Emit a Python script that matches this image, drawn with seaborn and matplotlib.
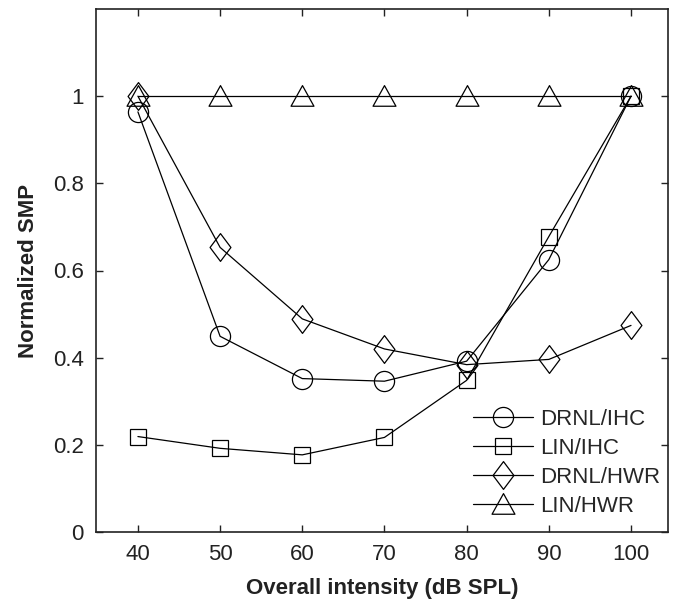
import matplotlib
matplotlib.use("Agg")
import matplotlib.pyplot as plt
import seaborn as sns
import pandas as pd
from matplotlib.path import Path

intensity = [40, 50, 60, 70, 80, 90, 100]
drnl_ihc = [0.964, 0.449, 0.352, 0.346, 0.392, 0.625, 1.0]
lin_ihc = [0.219, 0.192, 0.177, 0.217, 0.348, 0.678, 1.0]
drnl_hwr = [1.0, 0.653, 0.489, 0.420, 0.384, 0.396, 0.474]
lin_hwr = [1.0, 1.0, 1.0, 1.0, 1.0, 1.0, 1.0]
series_names = ["DRNL/IHC", "LIN/IHC", "DRNL/HWR", "LIN/HWR"]
xticks = [40, 50, 60, 70, 80, 90, 100]
yticks = [0, 0.2, 0.4, 0.6, 0.8, 1.0]
ytick_labels = ["0", "0.2", "0.4", "0.6", "0.8", "1"]

sns.set_theme(style="ticks")
plt.rcParams["font.family"] = ["Liberation Sans", "DejaVu Sans"]

fig = plt.figure(figsize=(6.78, 6.0), dpi=100)
ax = fig.add_axes([96/678, 1-532/600, (668-96)/678, (532-9)/600])

diamond = Path([(0, 1), (0.75, 0), (0, -1), (-0.75, 0), (0, 1)],
               [Path.MOVETO, Path.LINETO, Path.LINETO, Path.LINETO, Path.CLOSEPOLY])
triangle = Path([(-1, -0.85), (1, -0.85), (0, 0.95), (-1, -0.85)],
                [Path.MOVETO, Path.LINETO, Path.LINETO, Path.CLOSEPOLY])

all_vals = [drnl_ihc, lin_ihc, drnl_hwr, lin_hwr]
styles = [("o", 14.5), ("s", 11.5), (diamond, 20), (triangle, 16.5)]
for name, vals, (mk, ms) in zip(series_names, all_vals, styles):
    df = pd.DataFrame({"x": intensity, "y": vals})
    sns.lineplot(data=df, x="x", y="y", ax=ax, color="black", lw=0.9,
                 marker=mk, markersize=ms, markerfacecolor="none",
                 markeredgecolor="black", markeredgewidth=0.9, label=name)

ax.set_xlim(34.9, 104.5)
ax.set_ylim(0, 1.2)
ax.set_xticks(xticks)
ax.set_xticklabels([str(v) for v in xticks])
ax.set_yticks(yticks)
ax.set_yticklabels(ytick_labels)
ax.tick_params(direction="in", length=5, width=1, top=True, right=True,
               labelsize=16, colors="#222222", pad=9)
ax.tick_params(axis="x", pad=9)
for s in ax.spines.values():
    s.set_linewidth(1.2)
    s.set_color("#222222")
ax.set_xlabel("Overall intensity (dB SPL)", fontsize=16, fontweight="bold",
              color="#222222", labelpad=9)
ax.set_ylabel("Normalized SMP", fontsize=16, fontweight="bold",
              color="#222222", labelpad=10)

leg = ax.legend(loc="upper left", bbox_to_anchor=(473/678, 1-409/600),
                bbox_transform=fig.transFigure, frameon=False, fontsize=16,
                borderpad=0, borderaxespad=0, handlelength=2.7,
                handletextpad=0.3, labelspacing=0.36, markerscale=1.0)

fig.savefig("out.png", dpi=100)
